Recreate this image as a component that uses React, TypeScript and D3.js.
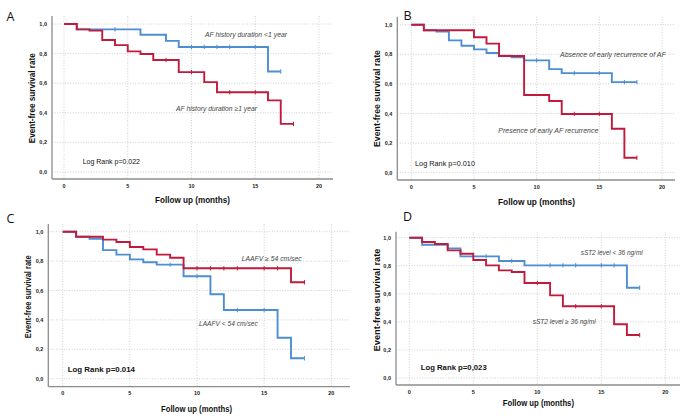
import React from "react";
import * as d3 from "d3";

// ---------- shared axis data ----------
const xTicks = [0, 5, 10, 15, 20];
const xTickLabels = ["0", "5", "10", "15", "20"];
const yTicks = [0, 0.2, 0.4, 0.6, 0.8, 1.0];
const yTickLabels = ["0,0", "0,2", "0,4", "0,6", "0,8", "1,0"];
const xTitle = "Follow up (months)";
const yTitle = "Event-free survival rate";

// ---------- Panel A ----------
const aShortTimes = [0, 1, 6, 8, 9, 16];
const aShortSurv = [1, 0.964, 0.927, 0.886, 0.845, 0.679];
const aShortCensor = [4, 10, 11, 12, 13, 15, 17];
const aShortEnd = 17;
const aLongTimes = [0, 1, 2, 3, 4, 5, 6, 7, 9, 11, 12, 16, 17];
const aLongSurv = [1, 0.964, 0.955, 0.892, 0.857, 0.815, 0.797, 0.757, 0.675, 0.607, 0.539, 0.484, 0.325];
const aLongCensor = [8, 10, 13, 15, 18];
const aLongEnd = 18;

// ---------- Panel B ----------
const bAbsTimes = [0, 1, 2, 3, 4, 5, 6, 7, 8, 9, 11, 12, 16];
const bAbsSurv = [1, 0.962, 0.953, 0.894, 0.858, 0.833, 0.809, 0.791, 0.78, 0.759, 0.7, 0.673, 0.612];
const bAbsCensor = [10, 13, 15, 17, 18];
const bAbsEnd = 18;
const bPresTimes = [0, 1, 5, 6, 7, 9, 11, 12, 16, 17];
const bPresSurv = [1, 0.962, 0.915, 0.872, 0.789, 0.525, 0.484, 0.397, 0.297, 0.101];
const bPresCensor = [13, 15, 18];
const bPresEnd = 18;

// ---------- Panel C ----------
const cHighTimes = [0, 1, 3, 4, 5, 6, 7, 8, 9, 17];
const cHighSurv = [1, 0.966, 0.946, 0.93, 0.896, 0.88, 0.844, 0.823, 0.751, 0.656];
const cHighCensor = [10, 11, 12, 13, 15, 16, 18];
const cHighEnd = 18;
const cLowTimes = [0, 1, 2, 3, 4, 5, 6, 7, 9, 11, 12, 16, 17];
const cLowSurv = [1, 0.966, 0.952, 0.875, 0.844, 0.812, 0.792, 0.776, 0.697, 0.574, 0.467, 0.279, 0.139];
const cLowCensor = [8, 10, 13, 15, 18];
const cLowEnd = 18;

// ---------- Panel D ----------
const dLowTimes = [0, 1, 3, 4, 7, 9, 17];
const dLowSurv = [1, 0.95, 0.924, 0.867, 0.834, 0.803, 0.643];
const dLowCensor = [6, 8, 11, 12, 13, 15, 16, 18];
const dLowEnd = 18;
const dHighTimes = [0, 1, 2, 3, 4, 5, 6, 7, 8, 9, 11, 12, 16, 17];
const dHighSurv = [1, 0.969, 0.955, 0.91, 0.886, 0.841, 0.803, 0.767, 0.755, 0.677, 0.589, 0.511, 0.383, 0.306];
const dHighCensor = [10, 13, 15, 18];
const dHighEnd = 18;

const BLUE = "#4d8ed3";
const RED = "#c01b3c";
const FONT = "'Liberation Sans', Arial, sans-serif";

type Curve = { times: number[]; surv: number[]; censor: number[]; end: number; color: string };
type TextSpec = { text: string; x1: number; x2: number; cy: number; size: number; weight?: string; italic?: boolean; fill?: string };
type Layout = {
  axisX: number; axisY: number; top: number; right: number;
  x0: number; x20: number; y1: number; y0: number;
  letter: string; lx: number; ly: number;
  xt: { x1: number; x2: number; base: number };
  yt: { cx: number; cy: number; len: number };
  notes: TextSpec[];
};

function survAt(c: Curve, t: number) {
  let s = c.surv[0];
  for (let i = 0; i < c.times.length; i++) if (c.times[i] <= t) s = c.surv[i];
  return s;
}

function Panel({ L, curves }: { L: Layout; curves: Curve[] }) {
  const x = d3.scaleLinear().domain([0, 20]).range([L.x0, L.x20]);
  const y = d3.scaleLinear().domain([0, 1]).range([L.y0, L.y1]);
  const line = d3
    .line<[number, number]>()
    .x((d) => x(d[0]))
    .y((d) => y(d[1]))
    .curve(d3.curveStepAfter);
  return (
    <g fontFamily={FONT}>
      {yTicks.map((t) => (
        <line key={"gy" + t} x1={L.axisX} x2={L.right} y1={y(t)} y2={y(t)} stroke="#c4c4c4" strokeWidth={0.8} strokeDasharray="1,1.6" />
      ))}
      {xTicks.map((t) => (
        <line key={"gx" + t} x1={x(t)} x2={x(t)} y1={L.top} y2={L.axisY} stroke="#c4c4c4" strokeWidth={0.8} strokeDasharray="1,1.6" />
      ))}
      <line x1={L.axisX} x2={L.axisX} y1={L.top} y2={L.axisY} stroke="#8c8c8c" strokeWidth={1.3} />
      <line x1={L.axisX} x2={L.right} y1={L.axisY} y2={L.axisY} stroke="#8c8c8c" strokeWidth={1.3} />
      {yTicks.map((t, i) => (
        <text key={"yl" + t} x={L.axisX - 5} y={y(t) + 2} textAnchor="end" fontSize={5.5} fontWeight="bold" fill="#222">
          {yTickLabels[i]}
        </text>
      ))}
      {xTicks.map((t, i) => (
        <text key={"xl" + t} x={x(t)} y={L.axisY + 8.5} textAnchor="middle" fontSize={5.5} fontWeight="bold" fill="#222">
          {xTickLabels[i]}
        </text>
      ))}
      {curves.map((c, ci) => {
        const pts: [number, number][] = c.times.map((t, i) => [t, c.surv[i]] as [number, number]);
        pts.push([c.end, c.surv[c.surv.length - 1]]);
        return (
          <g key={"c" + ci}>
            <path d={line(pts) || ""} fill="none" stroke={c.color} strokeWidth={1.9} />
            {c.censor.map((t) => (
              <line key={"cs" + t} x1={x(t)} x2={x(t)} y1={y(survAt(c, t)) - 2.2} y2={y(survAt(c, t)) + 2.2} stroke={c.color} strokeWidth={1} />
            ))}
          </g>
        );
      })}
      <text x={L.lx} y={L.ly} fontSize={12.5} fill="#111" fontFamily="'Open Sans', 'Liberation Sans', sans-serif">
        {L.letter}
      </text>
      <text x={L.xt.x1} y={L.xt.base} fontSize={8.8} fontWeight="bold" fill="#111" textLength={L.xt.x2 - L.xt.x1} lengthAdjust="spacingAndGlyphs">
        {xTitle}
      </text>
      <text
        transform={`translate(${L.yt.cx + 3},${L.yt.cy}) rotate(-90)`}
        x={-L.yt.len / 2}
        y={0}
        fontSize={9}
        fontWeight="bold"
        fill="#111"
        textLength={L.yt.len}
        lengthAdjust="spacingAndGlyphs"
      >
        {yTitle}
      </text>
      {L.notes.map((n, i) => (
        <text
          key={"n" + i}
          x={n.x1}
          y={n.cy + n.size * 0.36}
          fontSize={n.size}
          fontWeight={n.weight || "normal"}
          fontStyle={n.italic ? "italic" : "normal"}
          fill={n.fill || "#111"}
          textLength={n.x2 - n.x1}
          lengthAdjust="spacingAndGlyphs"
        >
          {n.text}
        </text>
      ))}
    </g>
  );
}

const layoutA: Layout = {
  axisX: 52, axisY: 179, top: 16, right: 333,
  x0: 64, x20: 319, y1: 24, y0: 172,
  letter: "A", lx: 6.5, ly: 20.5,
  xt: { x1: 155, x2: 230, base: 203 },
  yt: { cx: 31.7, cy: 98.3, len: 90 },
  notes: [
    { text: "AF history duration <1 year", x1: 205, x2: 287, cy: 34, size: 7, italic: true, fill: "#444" },
    { text: "AF history duration \u22651 year", x1: 176, x2: 257, cy: 108, size: 7, italic: true, fill: "#444" },
    { text: "Log Rank p=0.022", x1: 82.7, x2: 140, cy: 161, size: 7, fill: "#111" },
  ],
};
const layoutB: Layout = {
  axisX: 397.3, axisY: 180, top: 16.7, right: 675,
  x0: 411.3, x20: 662, y1: 24.7, y0: 172.7,
  letter: "B", lx: 403.5, ly: 20,
  xt: { x1: 498, x2: 575, base: 205 },
  yt: { cx: 376.7, cy: 98.5, len: 97 },
  notes: [
    { text: "Absence of early recurrence of AF", x1: 560, x2: 665.7, cy: 54.3, size: 7, italic: true, fill: "#444" },
    { text: "Presence of early AF recurrence", x1: 498.3, x2: 598.3, cy: 130, size: 7, italic: true, fill: "#444" },
    { text: "Log Rank p=0.010", x1: 415, x2: 475, cy: 163, size: 7, fill: "#111" },
  ],
};
const layoutC: Layout = {
  axisX: 48.3, axisY: 386.7, top: 224, right: 350,
  x0: 62.7, x20: 331.3, y1: 231.7, y0: 378.7,
  letter: "C", lx: 6.5, ly: 223.3,
  xt: { x1: 161, x2: 232, base: 411.5 },
  yt: { cx: 28.3, cy: 296.7, len: 83 },
  notes: [
    { text: "LAAFV \u2265 54 cm/sec", x1: 241.7, x2: 301.7, cy: 258.3, size: 6.8, italic: true, fill: "#444" },
    { text: "LAAFV < 54 cm/sec", x1: 199, x2: 257.7, cy: 323.3, size: 6.8, italic: true, fill: "#444" },
    { text: "Log Rank p=0.014", x1: 67.7, x2: 135, cy: 369.3, size: 8, weight: "bold", fill: "#111" },
  ],
};
const layoutD: Layout = {
  axisX: 396, axisY: 385, top: 231.7, right: 680,
  x0: 409.3, x20: 665.3, y1: 237.7, y0: 378,
  letter: "D", lx: 403, ly: 221,
  xt: { x1: 502.7, x2: 574, base: 406 },
  yt: { cx: 376.7, cy: 300, len: 103 },
  notes: [
    { text: "sST2 level < 36 ng/ml", x1: 580.7, x2: 642.7, cy: 252.7, size: 6.5, italic: true, fill: "#444" },
    { text: "sST2 level \u2265 36 ng/ml", x1: 532.7, x2: 595.7, cy: 321.7, size: 6.5, italic: true, fill: "#444" },
    { text: "Log Rank p=0,023", x1: 420.7, x2: 486.7, cy: 366.7, size: 8, weight: "bold", fill: "#111" },
  ],
};

export default function App() {
  const curvesA: Curve[] = [
    { times: aShortTimes, surv: aShortSurv, censor: aShortCensor, end: aShortEnd, color: BLUE },
    { times: aLongTimes, surv: aLongSurv, censor: aLongCensor, end: aLongEnd, color: RED },
  ];
  const curvesB: Curve[] = [
    { times: bAbsTimes, surv: bAbsSurv, censor: bAbsCensor, end: bAbsEnd, color: BLUE },
    { times: bPresTimes, surv: bPresSurv, censor: bPresCensor, end: bPresEnd, color: RED },
  ];
  const curvesC: Curve[] = [
    { times: cLowTimes, surv: cLowSurv, censor: cLowCensor, end: cLowEnd, color: BLUE },
    { times: cHighTimes, surv: cHighSurv, censor: cHighCensor, end: cHighEnd, color: RED },
  ];
  const curvesD: Curve[] = [
    { times: dLowTimes, surv: dLowSurv, censor: dLowCensor, end: dLowEnd, color: BLUE },
    { times: dHighTimes, surv: dHighSurv, censor: dHighCensor, end: dHighEnd, color: RED },
  ];
  return (
    <svg
      width={685}
      height={419}
      viewBox="0 0 685 419"
      style={{ position: "absolute", left: 0, top: 0, background: "#fff" }}
    >
      <rect x={0} y={0} width={685} height={419} fill="#fff" />
      <Panel L={layoutA} curves={curvesA} />
      <Panel L={layoutB} curves={curvesB} />
      <Panel L={layoutC} curves={curvesC} />
      <Panel L={layoutD} curves={curvesD} />
    </svg>
  );
}
